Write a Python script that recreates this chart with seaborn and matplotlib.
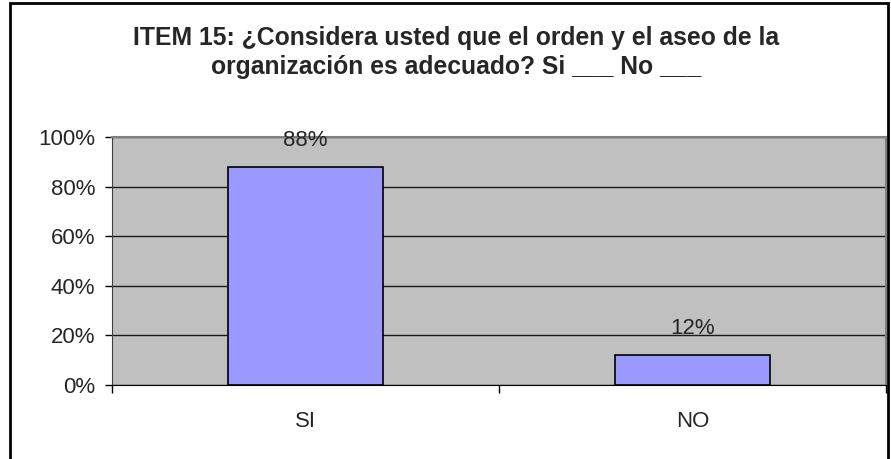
import matplotlib
matplotlib.use("Agg")
import matplotlib.pyplot as plt
import matplotlib.ticker as mticker
import seaborn as sns
import pandas as pd

categories = ["SI", "NO"]
values = [0.88, 0.12]
labels = ["88%", "12%"]

df = pd.DataFrame({"cat": categories, "val": values})

sns.set_style("white")
plt.rcParams["font.family"] = ["Liberation Sans", "DejaVu Sans"]

fig = plt.figure(figsize=(8.91, 4.59), dpi=100)
# plot area: x 112..886, y 137..385 px
ax = fig.add_axes([112 / 891, 74 / 459, 774 / 891, 248 / 459])

sns.barplot(data=df, x="cat", y="val", color="#9999FF", edgecolor="black",
            linewidth=1.2, width=0.4, saturation=1, ax=ax)

ax.set_facecolor("#C0C0C0")
ax.set_xlim(-0.5, 1.5)
ax.set_ylim(0, 1)
ax.yaxis.set_major_locator(mticker.MultipleLocator(0.2))
ax.yaxis.set_major_formatter(mticker.PercentFormatter(1.0, decimals=0))
ax.grid(axis="y", color="#1a1a1a", linewidth=1)
ax.set_axisbelow(True)
ax.set_xlabel("")
ax.set_ylabel("")

for i, (v, t) in enumerate(zip(values, labels)):
    ax.annotate(t, (i, v), xytext=(0, 15), textcoords="offset points",
                ha="center", va="baseline", fontsize=16)

ax.tick_params(axis="y", length=5, width=1, color="black", labelsize=16, pad=7, left=True)
ax.tick_params(axis="x", which="major", length=0, labelsize=16, pad=19)
ax.set_xticks([-0.5, 0.5, 1.5], minor=True)
ax.tick_params(axis="x", which="minor", length=6, width=1, color="black", bottom=True)

for s in ["top", "right"]:
    ax.spines[s].set_color("#808080")
    ax.spines[s].set_linewidth(1.5)
ax.spines["left"].set_color("#404040")
ax.spines["bottom"].set_color("black")

fig.text(0.512, 0.885, "ITEM 15: ¿Considera usted que el orden y el aseo de la\n"
         "organización es adecuado? Si ___ No ___",
         ha="center", va="center", fontsize=17.8, fontweight="bold", linespacing=1.28)

border = plt.Rectangle((10 / 891, -0.01), 878 / 891, 1.0 - 3 / 459 + 0.01,
                       transform=fig.transFigure, fill=False, edgecolor="black",
                       linewidth=2)
fig.patches.append(border)

fig.savefig("out.png", dpi=100, facecolor="white")
